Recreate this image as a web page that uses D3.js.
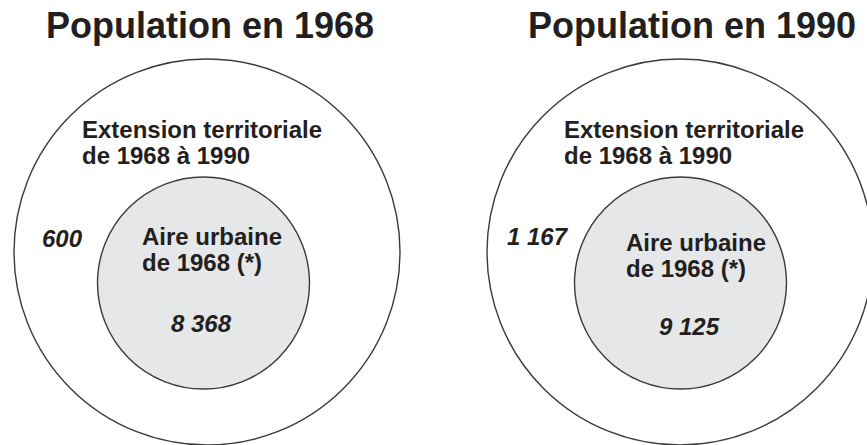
<!DOCTYPE html>
<html>
<head>
<meta charset="utf-8">
<script src="https://cdn.jsdelivr.net/npm/d3@7"></script>
<style>
  html, body { margin: 0; padding: 0; background: #fff; }
  svg { display: block; }
  text { font-family: "Liberation Sans", Arial, Helvetica, sans-serif; fill: #231f20; font-weight: bold; }
</style>
</head>
<body>
<svg id="chart" width="867" height="445"></svg>
<script>
// ---- data ----
const years = ["1968", "1990"];
const titles = ["Population en 1968", "Population en 1990"];
const outerLabelLines = ["Extension territoriale", "de 1968 à 1990"];
const innerLabelLines = ["Aire urbaine", "de 1968 (*)"];
const extensionPop = [600, 1167];   // population of the territorial extension
const urbanPop = [8368, 9125];      // population of the 1968 urban area

// ---- layout (styles / positions, not data) ----
const W = 867, H = 445;
const outerR = 193, innerR = 106;
const panelX = d3.scalePoint().domain(years).range([207, 680]);
const centerY = 252;
const nudges = {
  "1968": { inDx: -3.5, inDy: 31, titleDx: -161, extDx: -125, aireDx: -65, aireDy: 245, outNumDx: -165, outNumDy: 247, inNumDx: -36, inNumDy: 332 },
  "1990": { inDx: 0.5,  inDy: 31, titleDx: -152, extDx: -116, aireDx: -54, aireDy: 251, outNumDx: -173, outNumDy: 245, inNumDx: -21, inNumDy: 335 }
};

const fr = d3.formatLocale({ decimal: ",", thousands: " ", grouping: [3], currency: ["", " €"] });
const fmt = fr.format(",d");

const svg = d3.select("#chart");

const panels = svg.selectAll("g.panel")
  .data(years.map((y, i) => ({ year: y, title: titles[i], ext: extensionPop[i], urb: urbanPop[i] })))
  .join("g")
  .attr("class", "panel");

// outer circle
panels.append("circle")
  .attr("cx", d => panelX(d.year))
  .attr("cy", centerY)
  .attr("r", outerR)
  .attr("fill", "#ffffff")
  .attr("stroke", "#3a3a3a")
  .attr("stroke-width", 1.4);

// inner circle
panels.append("circle")
  .attr("cx", d => panelX(d.year) + nudges[d.year].inDx)
  .attr("cy", d => centerY + nudges[d.year].inDy)
  .attr("r", innerR)
  .attr("fill", "#e6e7e8")
  .attr("stroke", "#3a3a3a")
  .attr("stroke-width", 1.4);

// title
panels.append("text")
  .attr("x", d => panelX(d.year) + nudges[d.year].titleDx)
  .attr("y", 38)
  .style("font-size", "36px")
  .text(d => d.title);

// outer label
panels.each(function(d) {
  const g = d3.select(this);
  const cx = panelX(d.year), n = nudges[d.year];
  const t = g.append("text")
    .attr("x", cx + n.extDx)
    .attr("y", 138)
    .style("font-size", "24px");
  outerLabelLines.forEach((line, i) => {
    t.append("tspan").attr("x", cx + n.extDx).attr("y", 138 + i * 25.5).text(line);
  });

  const t2 = g.append("text").style("font-size", "24px");
  innerLabelLines.forEach((line, i) => {
    t2.append("tspan").attr("x", cx + n.aireDx).attr("y", n.aireDy + i * 26).text(line);
  });

  g.append("text")
    .attr("x", cx + n.outNumDx)
    .attr("y", n.outNumDy)
    .style("font-size", "24px")
    .style("font-style", "italic")
    .text(fmt(d.ext));

  g.append("text")
    .attr("x", cx + n.inNumDx)
    .attr("y", n.inNumDy)
    .style("font-size", "24px")
    .style("font-style", "italic")
    .text(fmt(d.urb));
});
</script>
</body>
</html>
